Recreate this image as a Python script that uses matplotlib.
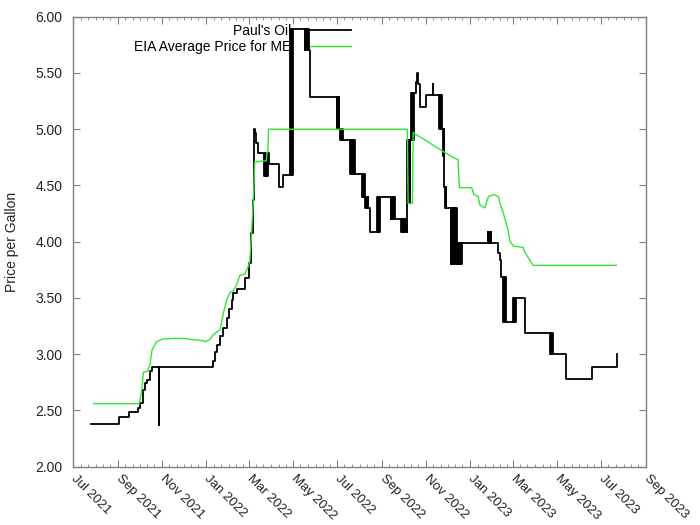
import matplotlib
matplotlib.use('Agg')
import matplotlib.pyplot as plt
import matplotlib.dates as mdates
import numpy as np
from matplotlib.ticker import FormatStrFormatter, MultipleLocator

plt.rcParams['font.family'] = ['Liberation Sans', 'DejaVu Sans']

# Paul's Oil price, one entry per change (alternating runs give the thick bands)
pauls_dates = [
    '2021-07-25', '2021-09-02', '2021-09-16', '2021-09-28', '2021-10-01', '2021-10-05',
    '2021-10-08', '2021-10-11', '2021-10-15', '2021-10-18', '2021-10-27', '2021-10-28',
    '2022-01-10', '2022-01-13', '2022-01-16', '2022-01-20', '2022-01-24', '2022-01-29',
    '2022-02-02', '2022-02-05', '2022-02-07', '2022-02-12', '2022-02-24', '2022-03-01',
    '2022-03-04', '2022-03-06', '2022-03-08', '2022-03-09', '2022-03-11', '2022-03-14',
    '2022-03-22', '2022-03-23', '2022-03-24', '2022-03-25', '2022-03-26', '2022-03-27',
    '2022-03-28', '2022-04-12', '2022-04-17',
    '2022-04-27', '2022-04-28', '2022-04-29', '2022-04-30', '2022-05-01',
    '2022-05-17', '2022-05-18', '2022-05-19', '2022-05-20', '2022-05-21', '2022-05-22',
    '2022-05-23', '2022-05-24',
    '2022-06-30', '2022-07-01', '2022-07-02', '2022-07-03', '2022-07-04',
    '2022-07-05', '2022-07-06', '2022-07-07', '2022-07-08', '2022-07-09',
    '2022-07-19', '2022-07-20', '2022-07-21', '2022-07-22', '2022-07-23', '2022-07-24',
    '2022-07-25',
    '2022-08-04', '2022-08-05', '2022-08-06', '2022-08-07', '2022-08-08',
    '2022-08-09', '2022-08-10', '2022-08-11', '2022-08-12', '2022-08-13', '2022-08-15',
    '2022-08-25', '2022-08-26', '2022-08-27', '2022-08-28', '2022-08-29',
    '2022-09-13', '2022-09-14', '2022-09-15', '2022-09-16', '2022-09-17', '2022-09-18',
    '2022-09-19',
    '2022-09-27', '2022-09-28', '2022-09-29', '2022-09-30', '2022-10-01', '2022-10-02',
    '2022-10-03', '2022-10-04', '2022-10-05',
    '2022-10-06', '2022-10-07', '2022-10-08', '2022-10-09', '2022-10-10',
    '2022-10-11', '2022-10-12', '2022-10-13', '2022-10-14', '2022-10-15',
    '2022-10-18', '2022-10-19', '2022-10-21', '2022-10-23', '2022-11-01', '2022-11-10',
    '2022-11-11',
    '2022-11-19', '2022-11-20', '2022-11-21', '2022-11-22', '2022-11-23',
    '2022-11-24', '2022-11-25', '2022-11-26', '2022-11-27', '2022-11-28', '2022-11-29',
    '2022-12-05', '2022-12-06', '2022-12-07', '2022-12-08', '2022-12-09', '2022-12-10',
    '2022-12-11', '2022-12-12', '2022-12-13',
    '2022-12-14', '2022-12-15', '2022-12-16', '2022-12-17', '2022-12-18', '2022-12-19',
    '2022-12-20',
    '2023-01-25', '2023-01-26', '2023-01-27', '2023-01-28', '2023-01-29', '2023-01-30',
    '2023-02-09', '2023-02-11', '2023-02-13',
    '2023-02-15', '2023-02-16', '2023-02-17', '2023-02-18', '2023-02-19',
    '2023-03-01', '2023-03-02', '2023-03-03', '2023-03-04', '2023-03-05',
    '2023-03-18',
    '2023-04-21', '2023-04-22', '2023-04-23', '2023-04-24', '2023-04-25',
    '2023-05-14', '2023-06-18', '2023-07-22', '2023-07-23',
]
pauls_price = [
    2.38, 2.44, 2.49, 2.52, 2.57, 2.68,
    2.74, 2.77, 2.85, 2.89, 2.37, 2.89,
    2.94, 3.02, 3.08, 3.16, 3.23, 3.32,
    3.40, 3.48, 3.54, 3.58, 3.68, 3.81,
    4.08, 4.37, 5.00, 4.97, 4.88, 4.79,
    4.58, 4.79, 4.58, 4.79, 4.58, 4.79,
    4.69, 4.49, 4.59,
    5.89, 4.59, 5.89, 4.59, 5.89,
    5.70, 5.89, 5.70, 5.89, 5.70, 5.89,
    5.70, 5.29,
    5.00, 5.29, 5.00, 5.29, 5.00,
    4.90, 5.00, 4.90, 5.00, 4.90,
    4.60, 4.90, 4.60, 4.90, 4.60, 4.90,
    4.60,
    4.40, 4.60, 4.40, 4.60, 4.40,
    4.30, 4.40, 4.30, 4.40, 4.30, 4.09,
    4.40, 4.09, 4.40, 4.09, 4.40,
    4.20, 4.40, 4.20, 4.40, 4.20, 4.40,
    4.20,
    4.09, 4.20, 4.09, 4.20, 4.09, 4.20,
    4.09, 4.20, 4.09,
    4.90, 4.35, 4.90, 4.35, 4.90,
    5.32, 4.90, 5.32, 4.90, 5.32,
    5.42, 5.50, 5.40, 5.20, 5.30, 5.40,
    5.30,
    5.00, 5.30, 5.00, 5.30, 5.00,
    4.76, 5.00, 4.49, 4.30, 4.49, 4.30,
    3.80, 4.30, 3.80, 4.30, 3.80, 4.30,
    3.80, 4.30, 3.80,
    3.99, 3.80, 3.99, 3.80, 3.99, 3.80,
    3.99,
    4.09, 3.99, 4.09, 3.99, 4.09, 3.99,
    3.90, 3.84, 3.69,
    3.29, 3.69, 3.29, 3.69, 3.29,
    3.50, 3.29, 3.50, 3.29, 3.50,
    3.19,
    3.00, 3.19, 3.00, 3.19, 3.00,
    2.78, 2.89, 2.89, 3.00,
]

# EIA average price for Maine
eia_dates = [
    '2021-07-29', '2021-09-30', '2021-10-03', '2021-10-06', '2021-10-12', '2021-10-15',
    '2021-10-18', '2021-10-24', '2021-11-02', '2021-11-16', '2021-11-30', '2021-12-14',
    '2021-12-28', '2021-12-30', '2022-01-06', '2022-01-10', '2022-01-16', '2022-01-20',
    '2022-01-24', '2022-01-29', '2022-02-03', '2022-02-07', '2022-02-12', '2022-02-16',
    '2022-02-23', '2022-02-28', '2022-03-02', '2022-03-04', '2022-03-07', '2022-03-09',
    '2022-03-25', '2022-03-26', '2022-03-27', '2022-03-28', '2022-10-06', '2022-10-07',
    '2022-10-13', '2022-10-14', '2022-11-25', '2022-12-11', '2022-12-15', '2022-12-17',
    '2023-01-03', '2023-01-06', '2023-01-12', '2023-01-14', '2023-01-21', '2023-01-26',
    '2023-02-02', '2023-02-09', '2023-02-11', '2023-02-16', '2023-02-18', '2023-02-22',
    '2023-02-25', '2023-03-02', '2023-03-15', '2023-03-18', '2023-03-24', '2023-03-29',
    '2023-07-22',
]
eia_price = [
    2.56, 2.56, 2.65, 2.84, 2.85, 2.91,
    3.04, 3.11, 3.135, 3.14, 3.14, 3.13,
    3.12, 3.11, 3.13, 3.17, 3.20, 3.22,
    3.35, 3.48, 3.55, 3.56, 3.62, 3.70,
    3.71, 3.78, 3.82, 4.02, 4.37, 4.71,
    4.72, 4.80, 4.80, 5.00, 5.00, 4.34,
    4.34, 4.97, 4.80, 4.74, 4.73, 4.48,
    4.48, 4.42, 4.40, 4.33, 4.30, 4.40,
    4.42, 4.40, 4.34, 4.25, 4.20, 4.11,
    4.00, 3.96, 3.95, 3.90, 3.84, 3.79,
    3.79,
]

pauls_x = np.array(pauls_dates, dtype='datetime64[D]')
eia_x = np.array(eia_dates, dtype='datetime64[D]')

fig = plt.figure(figsize=(7, 5.25), dpi=100)
ax = fig.add_axes([73.3 / 700, 1 - 466.7 / 525, (646 - 73.3) / 700, (466.7 - 16.7) / 525])

l1, = ax.plot(pauls_x, pauls_price, color='black', lw=1.3, drawstyle='steps-post', zorder=3)
l2, = ax.plot(eia_x, eia_price, color='#33e633', lw=1.0, zorder=4)

ax.set_xlim(np.datetime64('2021-07-01'), np.datetime64('2023-09-01'))
ax.set_ylim(2.0, 6.0)
ax.yaxis.set_major_locator(MultipleLocator(0.5))
ax.yaxis.set_major_formatter(FormatStrFormatter('%.2f'))
ax.xaxis.set_major_locator(mdates.MonthLocator(bymonth=[1, 3, 5, 7, 9, 11]))
ax.xaxis.set_minor_locator(mdates.DayLocator(bymonthday=[1, 11, 21]))
ax.xaxis.set_major_formatter(mdates.DateFormatter('%b %Y'))

for s in ax.spines.values():
    s.set_color('#808080')
    s.set_linewidth(1.0)
ax.tick_params(which='both', direction='in', top=True, right=True, colors='#808080',
               labelcolor='#222222', labelsize=10)
ax.tick_params(which='major', length=5)
ax.tick_params(which='minor', length=2.5)
ax.tick_params(axis='y', which='minor', left=False, right=False)
ax.tick_params(axis='y', pad=8)
ax.tick_params(axis='x', pad=7, labelsize=9.5)
for lab in ax.get_xticklabels():
    lab.set_rotation(-45)
    lab.set_ha('left')
    lab.set_va('center')
    lab.set_rotation_mode('anchor')

ax.set_ylabel('Price per Gallon', fontsize=10, color='#222222')
ax.yaxis.set_label_coords(-0.095, 0.5)

leg = ax.legend([l1, l2], ["Paul's Oil", 'EIA Average Price for ME'],
                loc='upper right', bbox_to_anchor=(351 / 700, 1 - 24 / 525),
                bbox_transform=fig.transFigure, frameon=False, markerfirst=False,
                handlelength=3.1, handletextpad=1.2, labelspacing=0.12,
                borderpad=0, borderaxespad=0, fontsize=10)
leg.set_zorder(1)

fig.savefig('out.png', dpi=100)
